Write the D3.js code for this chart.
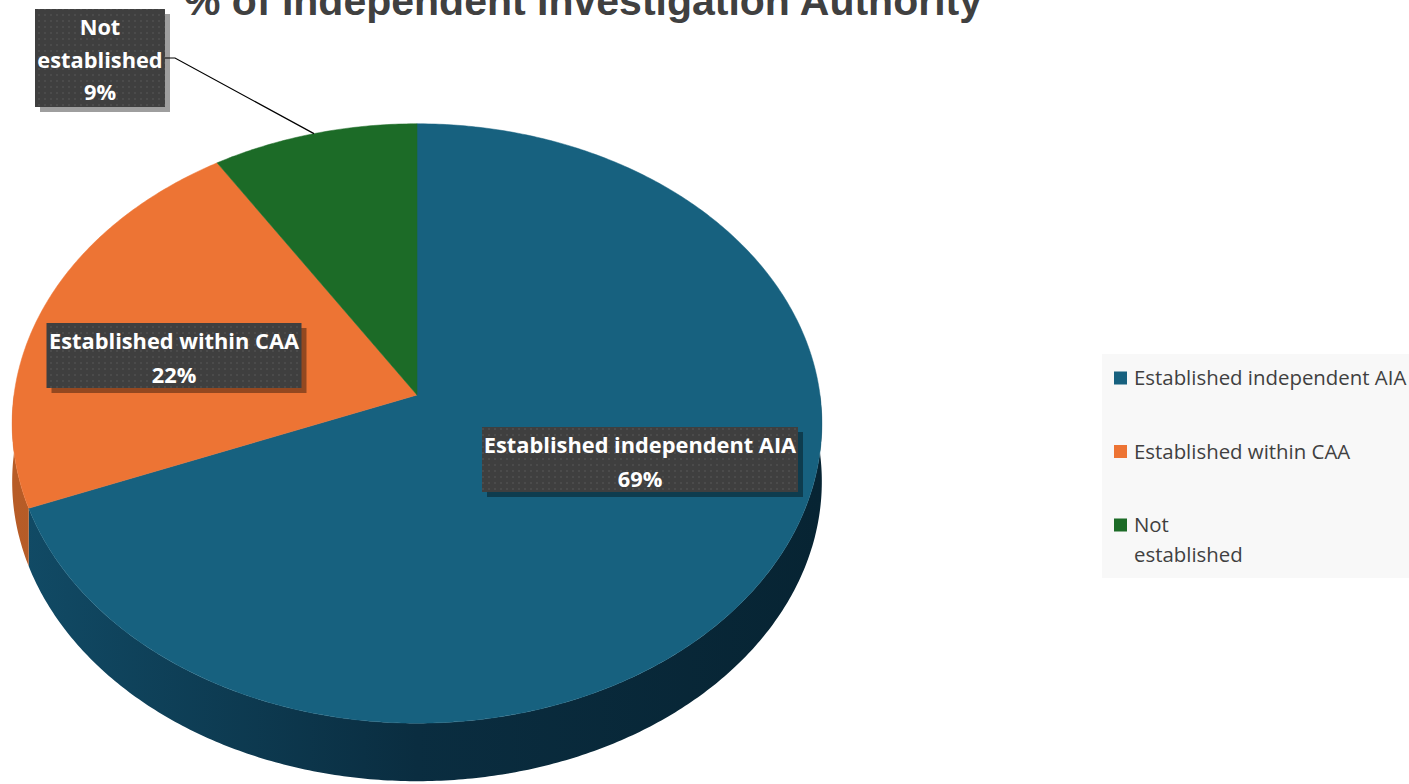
<!DOCTYPE html>
<html>
<head>
<meta charset="utf-8">
<script src="https://cdn.jsdelivr.net/npm/d3@7"></script>
<style>
  body { margin: 0; background: #fff; }
  svg { display: block; }
</style>
</head>
<body>
<div id="chart"></div>
<script>
// data
const categories = ['Established independent AIA', 'Established within CAA', 'Not established'];
const values = [69, 22, 9];
const legendLines = [['Established independent AIA'], ['Established within CAA'], ['Not', 'established']];
const labelLines = [['Established independent AIA', '69%'], ['Established within CAA', '22%'], ['Not', 'established', '9%']];
const topColors = ['#17617f', '#ed7434', '#1c6b27'];
const sideColors = [['#114b66', '#0a2d40', '#072433'], ['#b75c27', '#9c4a1c', '#8a3f16'], ['#155a1e', '#104a18', '#0c3a12']];

const W = 1409, H = 784;
const svg = d3.select('#chart').append('svg').attr('width', W).attr('height', H);
const defs = svg.append('defs');

// dotted label background
const pat = defs.append('pattern').attr('id', 'dots').attr('width', 6).attr('height', 6)
    .attr('patternUnits', 'userSpaceOnUse');
pat.append('rect').attr('width', 6).attr('height', 6).attr('fill', '#3f3f3f');
pat.append('rect').attr('x', 2).attr('y', 2).attr('width', 2).attr('height', 2).attr('fill', '#4b4b4b');

// perspective pie settings
const cx = 417, cy = 395, A = 403, B = 297, k = 0.095, depth = 58;
function proj(theta, r = 1) {
    const X = r * Math.sin(theta), Z = -r * Math.cos(theta);
    const w = 1 - k * Z;
    return [cx + A * X / w, cy + B * Z / w];
}
function arcPts(a0, a1) {
    const n = Math.max(2, Math.ceil((a1 - a0) / 0.01));
    return d3.range(n + 1).map(i => a0 + (a1 - a0) * i / n);
}

const pie = d3.pie().sort(null).value(d => d);
const arcs = pie(values);
const color = d3.scaleOrdinal().domain(categories).range(topColors);
const line = d3.line();

// side gradients
sideColors.forEach((c, i) => {
    const g = defs.append('linearGradient').attr('id', 'side' + i)
        .attr('gradientUnits', 'userSpaceOnUse')
        .attr('x1', cx - A).attr('x2', cx + A).attr('y1', 0).attr('y2', 0);
    g.append('stop').attr('offset', '0%').attr('stop-color', c[0]);
    g.append('stop').attr('offset', '50%').attr('stop-color', c[1]);
    g.append('stop').attr('offset', '100%').attr('stop-color', c[2]);
});

// side walls (front half only)
const gSide = svg.append('g');
arcs.forEach((a, i) => {
    const s = Math.max(a.startAngle, Math.PI / 2), e = Math.min(a.endAngle, Math.PI * 1.5);
    if (e <= s) return;
    const top = arcPts(s, e).map(t => proj(t));
    const bot = top.slice().reverse().map(p => [p[0], p[1] + depth]);
    gSide.append('path').attr('d', line(top.concat(bot)) + 'Z').attr('fill', `url(#side${i})`);
});

// top faces
const gTop = svg.append('g');
arcs.forEach((a, i) => {
    const pts = [[cx, cy]].concat(arcPts(a.startAngle, a.endAngle).map(t => proj(t)));
    gTop.append('path').attr('d', line(pts) + 'Z')
        .attr('fill', color(categories[i]))
        .attr('stroke', color(categories[i])).attr('stroke-width', 0.5);
});

// title
svg.append('text').attr('x', 583).attr('y', 15).attr('text-anchor', 'middle')
    .attr('font-family', 'Liberation Sans, Arial, sans-serif').attr('font-weight', 'bold')
    .attr('font-size', 41).attr('fill', '#404040')
    .text('% of Independent Investigation Authority');

// data labels
const labelBox = [
    { cx: 640, y: 427, w: 316, h: 65 },
    { cx: 174, y: 323, w: 255, h: 65 },
    { cx: 100, y: 9, w: 130, h: 98 }
];

// leader line for the small slice
const gMid = (arcs[2].startAngle + arcs[2].endAngle) / 2;
const lp = proj(gMid);
svg.append('path')
    .attr('d', line([[labelBox[2].cx + labelBox[2].w / 2, 58], [175, 58], lp]))
    .attr('fill', 'none').attr('stroke', '#000').attr('stroke-width', 1.2);

const gLab = svg.append('g');
labelLines.forEach((ls, i) => {
    const b = labelBox[i];
    const g = gLab.append('g');
    g.append('rect').attr('x', b.cx - b.w / 2 + 5).attr('y', b.y + 5).attr('width', b.w).attr('height', b.h)
        .attr('fill', '#000').attr('opacity', 0.38);
    g.append('rect').attr('x', b.cx - b.w / 2).attr('y', b.y).attr('width', b.w).attr('height', b.h)
        .attr('fill', 'url(#dots)');
    const lh = ls.length === 3 ? 32.5 : 33.5;
    ls.forEach((t, j) => {
        g.append('text').attr('x', b.cx).attr('y', b.y + 26 + j * lh)
            .attr('text-anchor', 'middle')
            .attr('font-family', 'Open Sans, sans-serif').attr('font-weight', 'bold')
            .attr('font-size', 21.8).attr('fill', '#fff').text(t);
    });
});

// legend
const lg = svg.append('g');
lg.append('rect').attr('x', 1102).attr('y', 354).attr('width', 307).attr('height', 224).attr('fill', '#f8f8f8');
const ly = d3.scalePoint().domain(categories).range([378, 525]);
categories.forEach((c, i) => {
    lg.append('rect').attr('x', 1114).attr('y', ly(c) - 6.5).attr('width', 13).attr('height', 13)
        .attr('fill', color(c));
    legendLines[i].forEach((t, j) => {
        lg.append('text').attr('x', 1134).attr('y', ly(c) + 7 + j * 29.5)
            .attr('font-family', 'Open Sans, sans-serif').attr('font-size', 20.4)
            .attr('fill', '#404040').text(t);
    });
});
</script>
</body>
</html>
